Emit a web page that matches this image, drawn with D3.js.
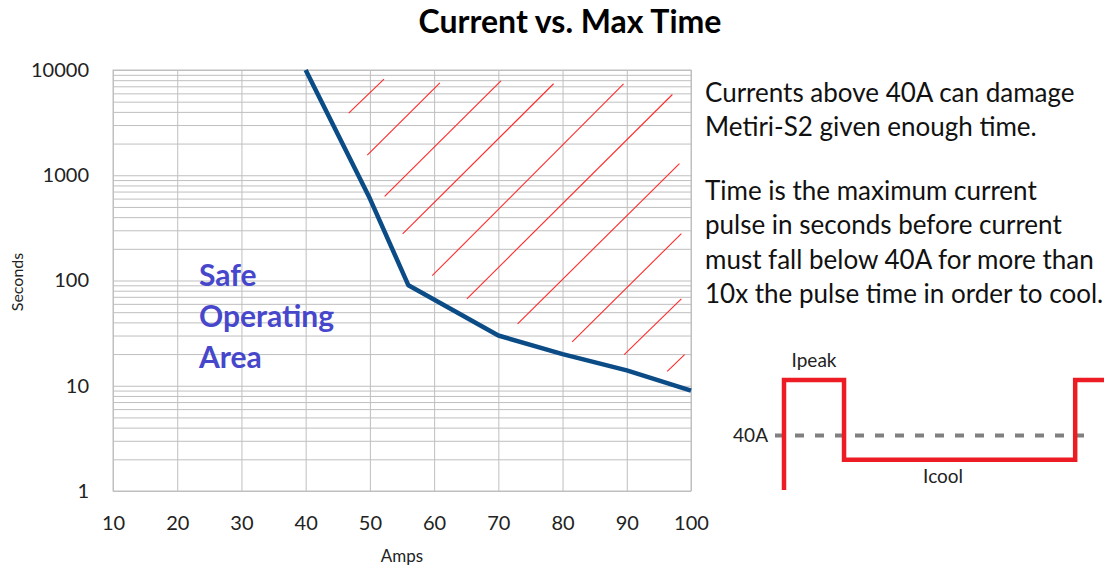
<!DOCTYPE html>
<html>
<head>
<meta charset="utf-8">
<script src="https://cdnjs.cloudflare.com/ajax/libs/d3/7.8.5/d3.min.js"></script>
<style>
  body { margin: 0; background: #fff; }
  svg { font-family: Lato, "Open Sans", sans-serif; }
</style>
</head>
<body>
<div id="chart"></div>
<script>
// curve: max time (s) for a given current (A)
var amps = [40, 50, 56, 70, 80, 90, 100];
var seconds = [10000, 600, 90, 30, 20, 14, 9];

var xTicks = [10, 20, 30, 40, 50, 60, 70, 80, 90, 100];
var yTicks = [1, 10, 100, 1000, 10000];

// red hatch strokes over the unsafe area, [amps, seconds] start -> end
var hatchStart = [[46.7, 3900], [49.6, 1550], [52.3, 630], [55.1, 277], [59.7, 111],
                  [65.1, 67], [73.0, 38.7], [81.5, 26.1], [89.6, 19.8], [96.3, 13.7]];
var hatchEnd = [[52.2, 8200], [60.9, 7550], [70.4, 7900], [78.6, 7400], [89.5, 7400],
                [97.1, 5850], [98.2, 1290], [98.5, 279], [98.5, 67], [99.0, 19.8]];

var safeLabel = ["Safe", "Operating", "Area"];
var noteLines1 = ["Currents above 40A can damage", "Metiri-S2 given enough time."];
var noteLines2 = ["Time is the maximum current", "pulse in seconds before current",
                  "must fall below 40A for more than", "10x the pulse time in order to cool."];

// pulse sketch (schematic units)
var pulseTime = [0, 0, 1, 1, 4.85, 4.85, 5.33];
var pulseAmps = [17.5, 63, 63, 30, 30, 63, 63];
var limitAmps = 40;

var svgWidth = 1113, svgHeight = 569;
var margin = { top: 70, right: 422, bottom: 78, left: 113 };
var chartWidth = svgWidth - margin.left - margin.right;
var chartHeight = svgHeight - margin.top - margin.bottom;

var svg = d3.select("#chart").append("svg")
  .attr("width", svgWidth)
  .attr("height", svgHeight);

svg.append("text")
  .attr("x", 570).attr("y", 33)
  .attr("text-anchor", "middle")
  .attr("font-size", 32).attr("font-weight", "bold")
  .attr("fill", "#000")
  .text("Current vs. Max Time");

var chartGroup = svg.append("g")
  .attr("transform", `translate(${margin.left}, ${margin.top})`);

var xScale = d3.scaleLinear().domain([10, 100]).range([0, chartWidth]);
var yScale = d3.scaleLog().domain([1, 10000]).range([chartHeight, 0]);

// grid
chartGroup.append("g")
  .attr("class", "grid")
  .call(d3.axisLeft(yScale).ticks(40).tickSize(-chartWidth).tickFormat(""));
chartGroup.append("g")
  .attr("class", "grid")
  .attr("transform", `translate(0, ${chartHeight})`)
  .call(d3.axisBottom(xScale).tickValues(xTicks).tickSize(-chartHeight).tickFormat(""));
chartGroup.selectAll(".grid line").attr("stroke", "#bfbfbf").attr("stroke-width", 1);
chartGroup.selectAll(".grid .domain").remove();
chartGroup.append("rect")
  .attr("width", chartWidth).attr("height", chartHeight)
  .attr("fill", "none").attr("stroke", "#bfbfbf");

// axes labels
var yAxis = chartGroup.append("g")
  .call(d3.axisLeft(yScale).tickValues(yTicks).tickSize(0).tickPadding(24).tickFormat(d3.format("d")));
var xAxis = chartGroup.append("g")
  .attr("transform", `translate(0, ${chartHeight})`)
  .call(d3.axisBottom(xScale).tickValues(xTicks).tickSize(0).tickPadding(25));
[yAxis, xAxis].forEach(a => {
  a.select(".domain").remove();
  a.selectAll("text").attr("font-family", "Lato, sans-serif").attr("font-size", 20).attr("fill", "#222");
});

svg.append("text")
  .attr("transform", "translate(23, 282) rotate(-90)")
  .attr("text-anchor", "middle")
  .attr("font-size", 16).attr("fill", "#222")
  .text("Seconds");
svg.append("text")
  .attr("x", 402).attr("y", 562)
  .attr("text-anchor", "middle")
  .attr("font-size", 17).attr("fill", "#222")
  .text("Amps");

// hatch
chartGroup.selectAll(".hatch")
  .data(hatchStart)
  .enter()
  .append("line")
  .attr("x1", d => xScale(d[0]))
  .attr("y1", d => yScale(d[1]))
  .attr("x2", (d, i) => xScale(hatchEnd[i][0]))
  .attr("y2", (d, i) => yScale(hatchEnd[i][1]))
  .attr("stroke", "#ff2a2a")
  .attr("stroke-width", 1.1);

// curve
var line = d3.line()
  .x((d, i) => xScale(amps[i]))
  .y(d => yScale(d));
chartGroup.append("path")
  .datum(seconds)
  .attr("d", line)
  .attr("fill", "none")
  .attr("stroke", "#0b4c86")
  .attr("stroke-width", 4.5)
  .attr("stroke-linejoin", "round");

// safe operating area label
svg.append("g").selectAll("text")
  .data(safeLabel)
  .enter()
  .append("text")
  .attr("x", 199)
  .attr("y", (d, i) => 286 + i * 41)
  .attr("font-size", 30).attr("font-weight", "bold")
  .attr("fill", "#4747cc")
  .text(d => d);

// notes
svg.append("g").selectAll("text")
  .data(noteLines1)
  .enter()
  .append("text")
  .attr("x", 705)
  .attr("y", (d, i) => 102 + i * 34)
  .attr("font-size", 26).attr("fill", "#111")
  .text(d => d);
svg.append("g").selectAll("text")
  .data(noteLines2)
  .enter()
  .append("text")
  .attr("x", 705)
  .attr("y", (d, i) => 200 + i * 34.3)
  .attr("font-size", 26).attr("fill", "#111")
  .text(d => d);

// pulse sketch
var tScale = d3.scaleLinear().domain([0, 5.33]).range([784, 1104]);
var aScale = d3.scaleLinear().domain([17.5, 63]).range([490, 380]);

svg.append("line")
  .attr("x1", tScale(-0.15)).attr("x2", tScale(5.13))
  .attr("y1", aScale(limitAmps)).attr("y2", aScale(limitAmps))
  .attr("stroke", "#808080").attr("stroke-width", 4)
  .attr("stroke-dasharray", "9 11");

var pulseLine = d3.line()
  .x((d, i) => tScale(pulseTime[i]))
  .y(d => aScale(d));
svg.append("path")
  .datum(pulseAmps)
  .attr("d", pulseLine)
  .attr("fill", "none")
  .attr("stroke", "#ed1c24")
  .attr("stroke-width", 4.5);

svg.append("text")
  .attr("x", tScale(0.5)).attr("y", aScale(63) - 13)
  .attr("text-anchor", "middle")
  .attr("font-size", 19).attr("fill", "#222")
  .text("Ipeak");
svg.append("text")
  .attr("x", tScale(2.65)).attr("y", aScale(30) + 23)
  .attr("text-anchor", "middle")
  .attr("font-size", 19).attr("fill", "#222")
  .text("Icool");
svg.append("text")
  .attr("x", 768).attr("y", aScale(limitAmps) + 6)
  .attr("text-anchor", "end")
  .attr("font-size", 19).attr("fill", "#222")
  .text("40A");
</script>
</body>
</html>
